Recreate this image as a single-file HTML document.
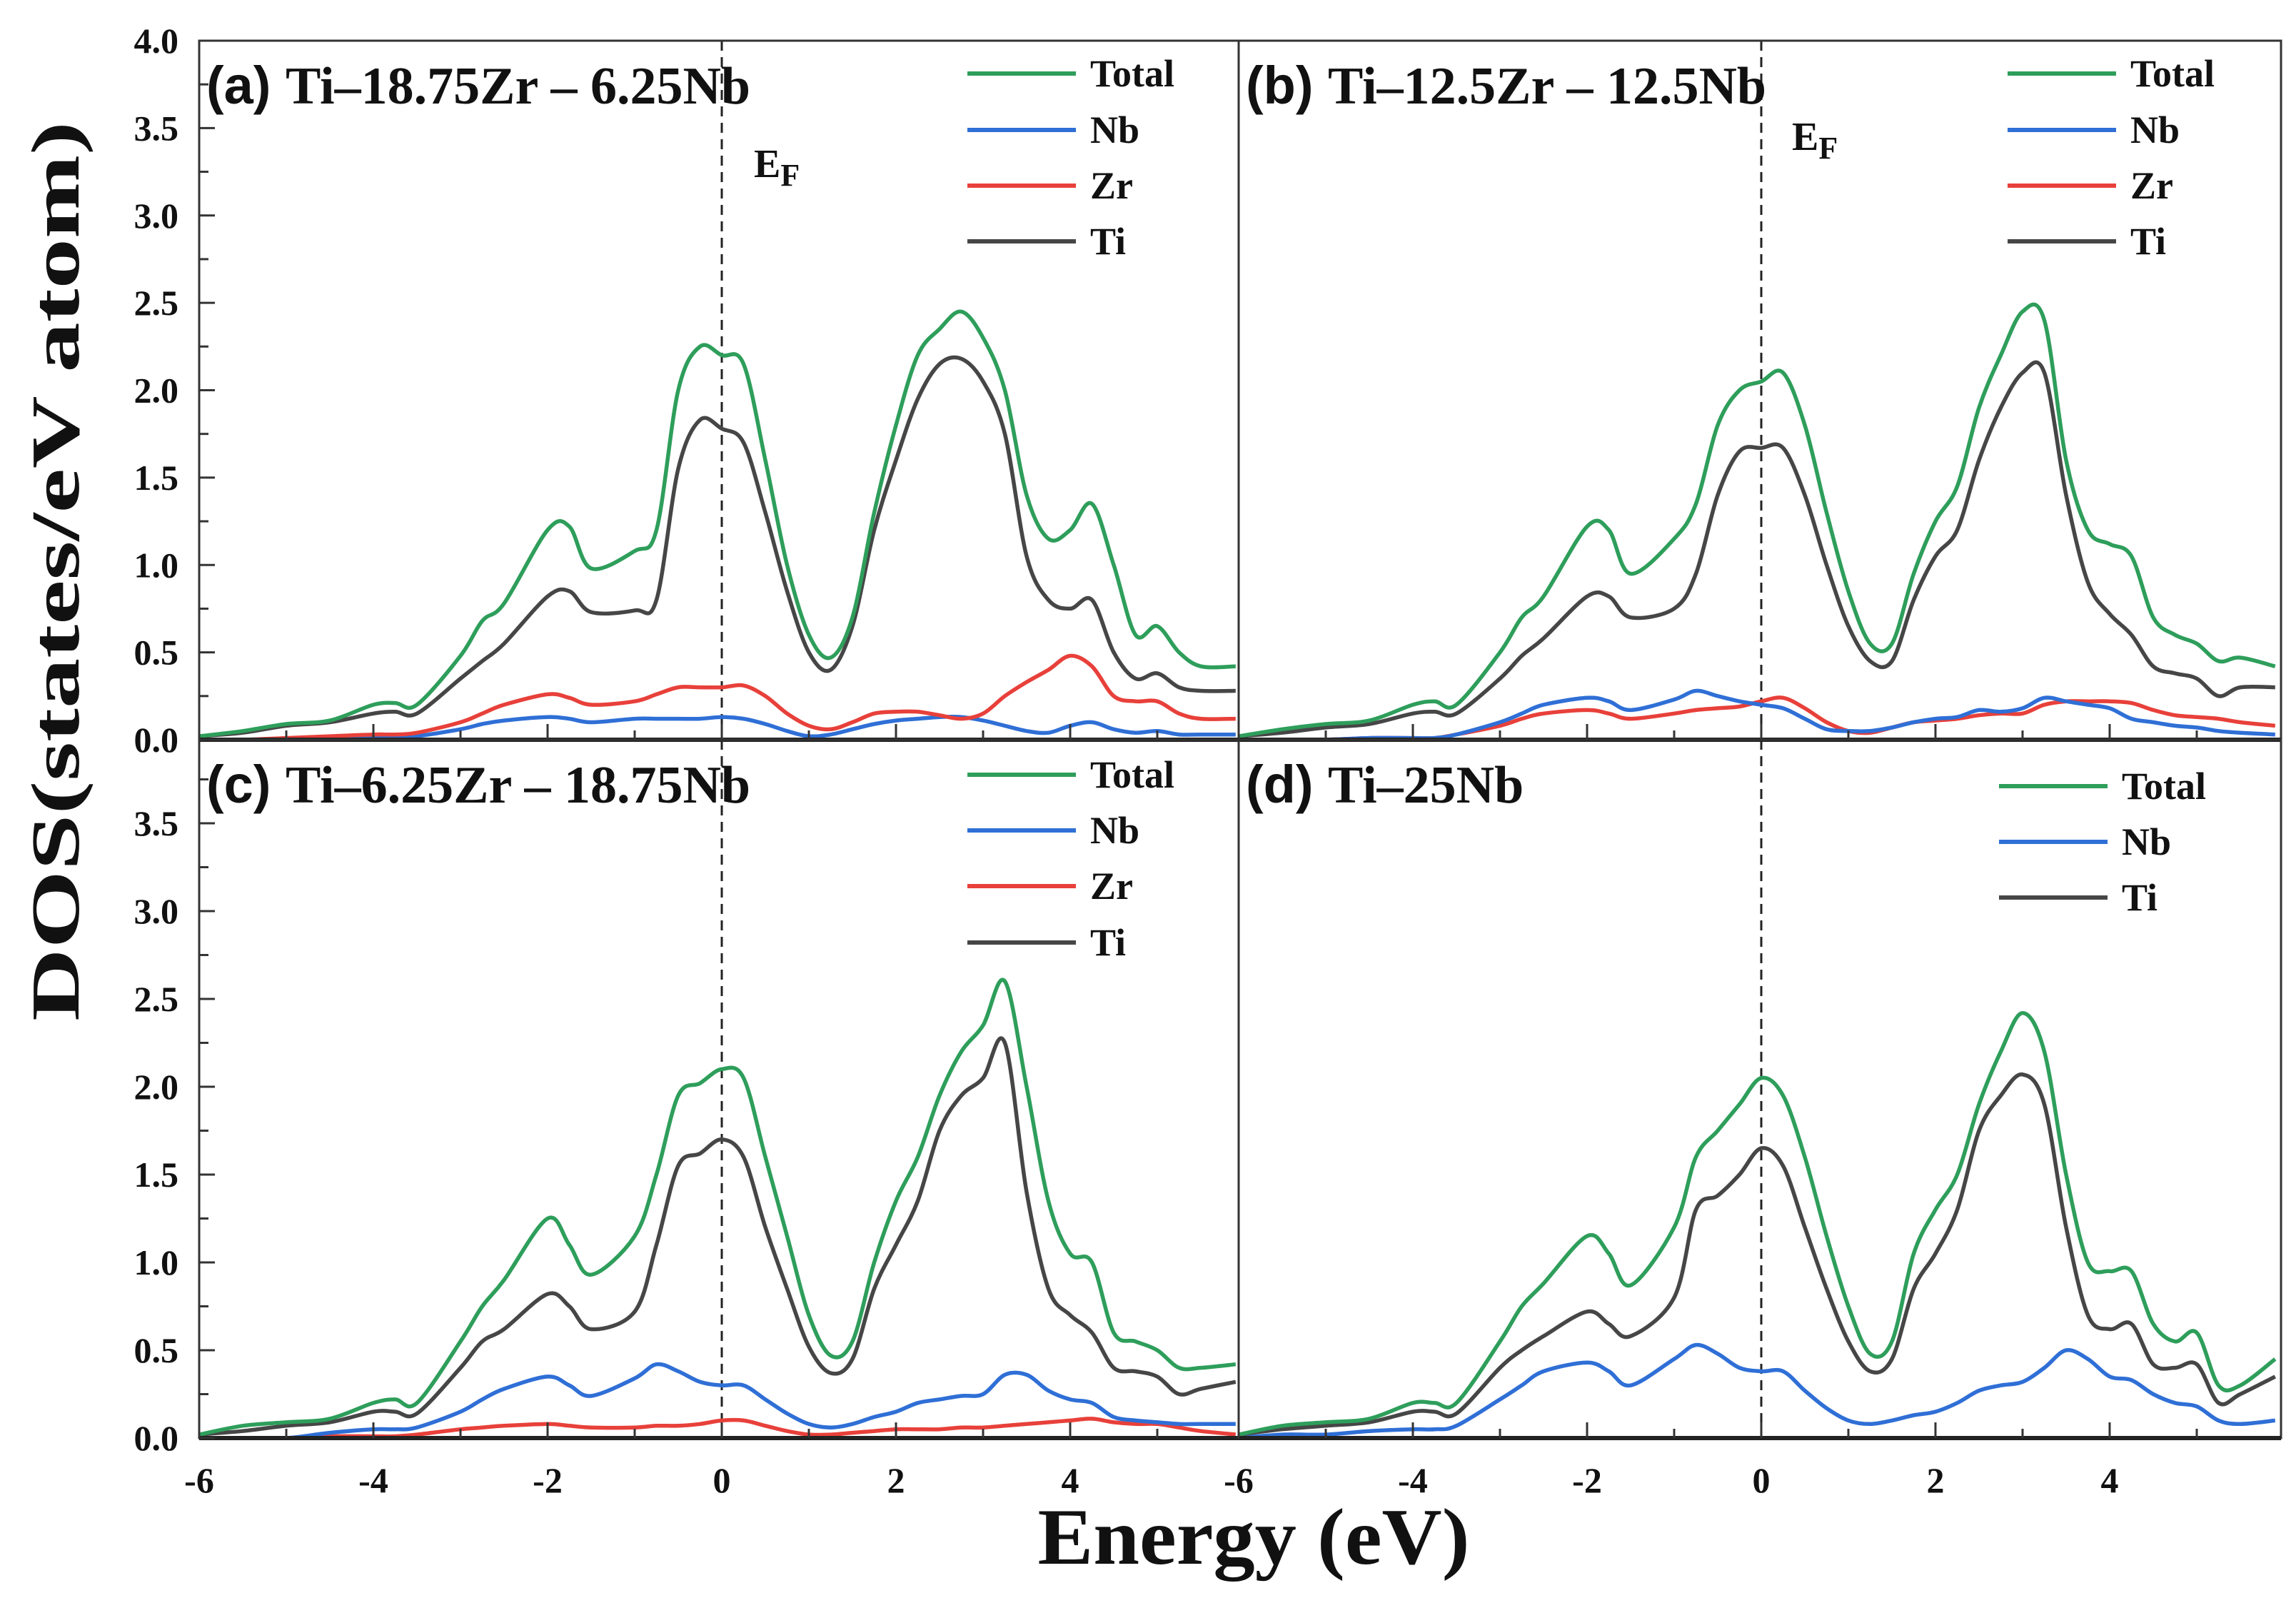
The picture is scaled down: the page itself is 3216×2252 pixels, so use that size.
<!DOCTYPE html>
<html><head><meta charset="utf-8">
<style>
html,body{margin:0;padding:0;background:#fff;}
svg{display:block;}
text{font-family:"Liberation Serif",serif;font-weight:bold;fill:#111;}
</style></head>
<body>
<svg id="chart" width="3216" height="2252" viewBox="0 0 3216 2252" xmlns="http://www.w3.org/2000/svg"></svg>
<script>
const energy = [-6,-5.5,-5,-4.5,-4,-3.75,-3.5,-3,-2.75,-2.5,-2,-1.75,-1.5,-1,-0.75,-0.5,-0.25,0,0.25,0.5,0.75,1,1.25,1.5,1.75,2,2.25,2.5,2.75,3,3.25,3.5,3.75,4,4.25,4.5,4.75,5,5.25,5.5,5.9];
const xTicks = [-6,-4,-2,0,2,4];
const yTicks = [0,0.5,1,1.5,2,2.5,3,3.5,4];
const yTicksLow = [0,0.5,1,1.5,2,2.5,3,3.5];

const aTotal = [0.02,0.05,0.09,0.11,0.2,0.21,0.2,0.48,0.68,0.78,1.2,1.22,0.98,1.08,1.2,2.0,2.25,2.2,2.15,1.6,1.0,0.6,0.47,0.7,1.3,1.8,2.2,2.35,2.45,2.3,2.0,1.4,1.15,1.2,1.35,1.0,0.6,0.65,0.5,0.42,0.42];
const aTi = [0.02,0.04,0.08,0.1,0.15,0.16,0.15,0.35,0.45,0.55,0.82,0.85,0.73,0.74,0.8,1.55,1.83,1.78,1.7,1.3,0.85,0.5,0.4,0.65,1.2,1.6,1.95,2.15,2.18,2.05,1.75,1.05,0.8,0.75,0.8,0.5,0.35,0.38,0.3,0.28,0.28];
const aZr = [0,0,0.01,0.02,0.03,0.03,0.04,0.1,0.15,0.2,0.26,0.24,0.2,0.22,0.26,0.3,0.3,0.3,0.31,0.25,0.15,0.08,0.06,0.1,0.15,0.16,0.16,0.14,0.12,0.15,0.25,0.33,0.4,0.48,0.42,0.25,0.22,0.22,0.15,0.12,0.12];
const aNb = [0,0,0,0.01,0.01,0.01,0.02,0.06,0.09,0.11,0.13,0.12,0.1,0.12,0.12,0.12,0.12,0.13,0.12,0.09,0.05,0.02,0.03,0.06,0.09,0.11,0.12,0.13,0.13,0.11,0.08,0.05,0.04,0.08,0.1,0.06,0.04,0.05,0.03,0.03,0.03];

const bTotal = [0.02,0.06,0.09,0.11,0.2,0.22,0.2,0.5,0.7,0.82,1.22,1.2,0.95,1.15,1.35,1.8,2.0,2.05,2.1,1.8,1.3,0.85,0.55,0.55,0.95,1.25,1.45,1.9,2.2,2.45,2.4,1.6,1.2,1.12,1.05,0.7,0.6,0.55,0.45,0.47,0.42];
const bTi = [0.02,0.04,0.07,0.09,0.15,0.16,0.15,0.35,0.48,0.58,0.82,0.82,0.7,0.75,0.95,1.4,1.65,1.67,1.67,1.4,1.0,0.65,0.45,0.45,0.8,1.05,1.2,1.6,1.9,2.1,2.1,1.4,0.9,0.72,0.6,0.42,0.38,0.35,0.25,0.3,0.3];
const bNb = [0,0,0,0.01,0.01,0.01,0.03,0.1,0.15,0.2,0.24,0.22,0.17,0.23,0.28,0.25,0.22,0.2,0.18,0.12,0.06,0.05,0.05,0.07,0.1,0.12,0.13,0.17,0.16,0.18,0.24,0.22,0.2,0.18,0.12,0.1,0.08,0.07,0.05,0.04,0.03];
const bZr = [0,0,0,0.01,0.01,0.01,0.03,0.08,0.12,0.15,0.17,0.15,0.12,0.15,0.17,0.18,0.19,0.22,0.24,0.18,0.1,0.05,0.04,0.07,0.1,0.11,0.12,0.14,0.15,0.15,0.2,0.22,0.22,0.22,0.21,0.17,0.14,0.13,0.12,0.1,0.08];

const cTotal = [0.02,0.07,0.09,0.11,0.2,0.22,0.2,0.55,0.75,0.9,1.25,1.1,0.93,1.15,1.5,1.95,2.02,2.1,2.05,1.6,1.15,0.7,0.47,0.55,1.0,1.35,1.6,1.95,2.2,2.35,2.6,2.0,1.35,1.05,1.0,0.6,0.55,0.5,0.4,0.4,0.42];
const cTi = [0.02,0.04,0.07,0.09,0.15,0.15,0.14,0.4,0.55,0.62,0.82,0.75,0.62,0.72,1.1,1.55,1.62,1.7,1.6,1.2,0.85,0.52,0.37,0.45,0.85,1.1,1.35,1.75,1.95,2.05,2.25,1.4,0.85,0.7,0.6,0.4,0.38,0.35,0.25,0.28,0.32];
const cNb = [0,0,0,0.03,0.05,0.05,0.06,0.15,0.22,0.28,0.35,0.3,0.24,0.34,0.42,0.38,0.32,0.3,0.3,0.22,0.14,0.08,0.06,0.08,0.12,0.15,0.2,0.22,0.24,0.25,0.36,0.36,0.27,0.22,0.2,0.12,0.1,0.09,0.08,0.08,0.08];
const cZr = [0,0,0,0.01,0.01,0.01,0.02,0.05,0.06,0.07,0.08,0.07,0.06,0.06,0.07,0.07,0.08,0.1,0.1,0.07,0.04,0.02,0.02,0.03,0.04,0.05,0.05,0.05,0.06,0.06,0.07,0.08,0.09,0.1,0.11,0.09,0.08,0.08,0.06,0.04,0.02];

const dTotal = [0.02,0.07,0.09,0.11,0.2,0.2,0.2,0.55,0.75,0.88,1.15,1.05,0.87,1.2,1.6,1.75,1.9,2.05,1.95,1.6,1.15,0.75,0.48,0.55,1.05,1.3,1.5,1.9,2.2,2.42,2.2,1.5,1.0,0.95,0.95,0.65,0.55,0.6,0.3,0.3,0.45];
const dTi = [0.02,0.05,0.07,0.09,0.15,0.15,0.14,0.4,0.5,0.58,0.72,0.65,0.58,0.8,1.3,1.38,1.5,1.65,1.55,1.2,0.85,0.55,0.38,0.45,0.85,1.05,1.3,1.75,1.95,2.07,1.9,1.2,0.7,0.62,0.65,0.42,0.4,0.42,0.2,0.25,0.35];
const dNb = [0,0.02,0.02,0.04,0.05,0.05,0.07,0.22,0.3,0.38,0.43,0.38,0.3,0.45,0.53,0.48,0.4,0.38,0.38,0.27,0.17,0.1,0.08,0.1,0.13,0.15,0.2,0.27,0.3,0.32,0.4,0.5,0.45,0.35,0.33,0.25,0.2,0.18,0.1,0.08,0.1];

const C = {Total:'#2e9e5b', Nb:'#2f6fd6', Zr:'#e8403a', Ti:'#464646'};
const NS = 'http://www.w3.org/2000/svg';
const svg = document.getElementById('chart');
function el(tag, attrs, parent){
  const e = document.createElementNS(NS, tag);
  for (const k in attrs) e.setAttribute(k, attrs[k]);
  (parent||svg).appendChild(e);
  return e;
}
function smooth(pts){
  let d = 'M'+pts[0][0].toFixed(1)+','+pts[0][1].toFixed(1);
  for (let i=0;i<pts.length-1;i++){
    const p0=pts[Math.max(0,i-1)], p1=pts[i], p2=pts[i+1], p3=pts[Math.min(pts.length-1,i+2)];
    const c1=[p1[0]+(p2[0]-p0[0])/6, p1[1]+(p2[1]-p0[1])/6];
    const c2=[p2[0]-(p3[0]-p1[0])/6, p2[1]-(p3[1]-p1[1])/6];
    d+=' C'+c1[0].toFixed(1)+','+c1[1].toFixed(1)+' '+c2[0].toFixed(1)+','+c2[1].toFixed(1)+' '+p2[0].toFixed(1)+','+p2[1].toFixed(1);
  }
  return d;
}

const panels = [
  {id:'a', x0:279, x1:1735, yTop:57, y0:1036, ky:244.75, title:'Ti–18.75Zr – 6.25Nb', series:[['Total',aTotal],['Nb',aNb],['Zr',aZr],['Ti',aTi]], draw:['Nb','Zr','Ti','Total'], legX:1355, legY:[103,182,260,338], ef:[1056,248], yl:true, xl:false},
  {id:'b', x0:1735, x1:3195, yTop:57, y0:1036, ky:244.75, title:'Ti–12.5Zr – 12.5Nb', series:[['Total',bTotal],['Nb',bNb],['Zr',bZr],['Ti',bTi]], draw:['Zr','Nb','Ti','Total'], legX:2812, legY:[103,182,260,338], ef:[2510,210], yl:false, xl:false},
  {id:'c', x0:279, x1:1735, yTop:1036, y0:2014, ky:246, title:'Ti–6.25Zr – 18.75Nb', series:[['Total',cTotal],['Nb',cNb],['Zr',cZr],['Ti',cTi]], draw:['Zr','Nb','Ti','Total'], legX:1355, legY:[1085,1163,1241,1320], ef:null, yl:true, xl:true},
  {id:'d', x0:1735, x1:3195, yTop:1036, y0:2014, ky:246, title:'Ti–25Nb', series:[['Total',dTotal],['Nb',dNb],['Ti',dTi]], draw:['Nb','Ti','Total'], legX:2800, legY:[1101,1179,1257], ef:null, yl:false, xl:true}
];
const XMIN=-6, KX=122;

panels.forEach(p=>{
  const g = el('g',{});
  
  
  const xs = v => p.x0 + (v - XMIN)*KX;
  const ys = v => p.y0 - v*p.ky;
  // clip
  const cp = el('clipPath',{id:'clip'+p.id}, g);
  el('rect',{x:p.x0,y:p.yTop,width:p.x1-p.x0,height:p.y0-p.yTop},cp);
  // Fermi line
  const fl = el('line',{x1:xs(0),x2:xs(0),y1:p.yTop,y2:p.y0,stroke:'#222','stroke-width':3,'stroke-dasharray':'14,9'},g);
  
  
  // series
  const map = {}; p.series.forEach(s=>map[s[0]]=s[1]);
  p.draw.forEach(name=>{
    const vals = map[name];
    const pts = energy.map((e,i)=>[xs(e), ys(vals[i])]);
    const path = el('path',{d:smooth(pts),fill:'none',stroke:C[name],'stroke-width':5.5,'stroke-linejoin':'round','clip-path':'url(#clip'+p.id+')'},g);
    
    
  });
  // frame
  el('rect',{x:p.x0,y:p.yTop,width:p.x1-p.x0,height:p.y0-p.yTop,fill:'none',stroke:'#333','stroke-width':3},g);
  el('line',{x1:p.x0,x2:p.x1,y1:p.y0,y2:p.y0,stroke:'#222','stroke-width':6},g);
  // x ticks
  for (let v=-6; v<=5.5; v+=1){
    const major = xTicks.indexOf(v)>=0;
    el('line',{x1:xs(v),x2:xs(v),y1:p.y0,y2:p.y0-(major?22:13),stroke:'#333','stroke-width':3},g);
  }
  if (p.xl){
    xTicks.forEach(v=>{
      const t = el('text',{x:xs(v),y:2090,'font-size':50,'text-anchor':'middle'},g);
      t.textContent = v;
      
      
    });
  }
  // y ticks
  if (p.yl){
    const ticks = p.id==='a'? yTicks : yTicksLow;
    for (let v=0; v<=3.9+(p.id==='a'?0.2:0); v+=0.25){
      const major = Math.abs(v*2-Math.round(v*2))<1e-6;
      el('line',{x1:p.x0,x2:p.x0+(major?22:13),y1:ys(v),y2:ys(v),stroke:'#333','stroke-width':3},g);
    }
    ticks.forEach(v=>{
      const t = el('text',{x:250,y:ys(v)+17,'font-size':50,'text-anchor':'end'},g);
      t.textContent = v.toFixed(1);
      
      
    });
  }
  // title
  const tt = el('text',{x:p.x0+10,y:p.yTop+88,'font-size':74},g);
  
  
  const ts = el('tspan',{'font-family':'Liberation Sans, sans-serif'},tt);
  ts.textContent = '('+p.id+') ';
  const ts2 = el('tspan',{},tt);
  ts2.textContent = p.title;
  // EF
  if (p.ef){
    const ef = el('text',{x:p.ef[0],y:p.ef[1],'font-size':56},g);
    
    
    ef.textContent='E';
    const sub = el('tspan',{'font-size':44,dy:12},ef);
    sub.textContent='F';
  }
  // legend
  p.series.forEach((s,i)=>{
    const y = p.legY[i];
    const lg = el('g',{},g);
    
    
    el('line',{x1:p.legX,x2:p.legX+152,y1:y,y2:y,stroke:C[s[0]],'stroke-width':6},lg);
    const t = el('text',{x:p.legX+172,y:y+18,'font-size':54},lg);
    t.textContent = s[0];
  });
});

// axis titles
const yt = el('text',{x:0,y:0,'font-size':96,'text-anchor':'middle',transform:'translate(110,800) rotate(-90)',textLength:1260,lengthAdjust:'spacingAndGlyphs'});
yt.textContent='DOS(states/eV atom)';


const xt = el('text',{x:1756,y:2190,'font-size':112,'text-anchor':'middle',textLength:605,lengthAdjust:'spacingAndGlyphs'});
xt.textContent='Energy (eV)';


</script>
</body></html>
